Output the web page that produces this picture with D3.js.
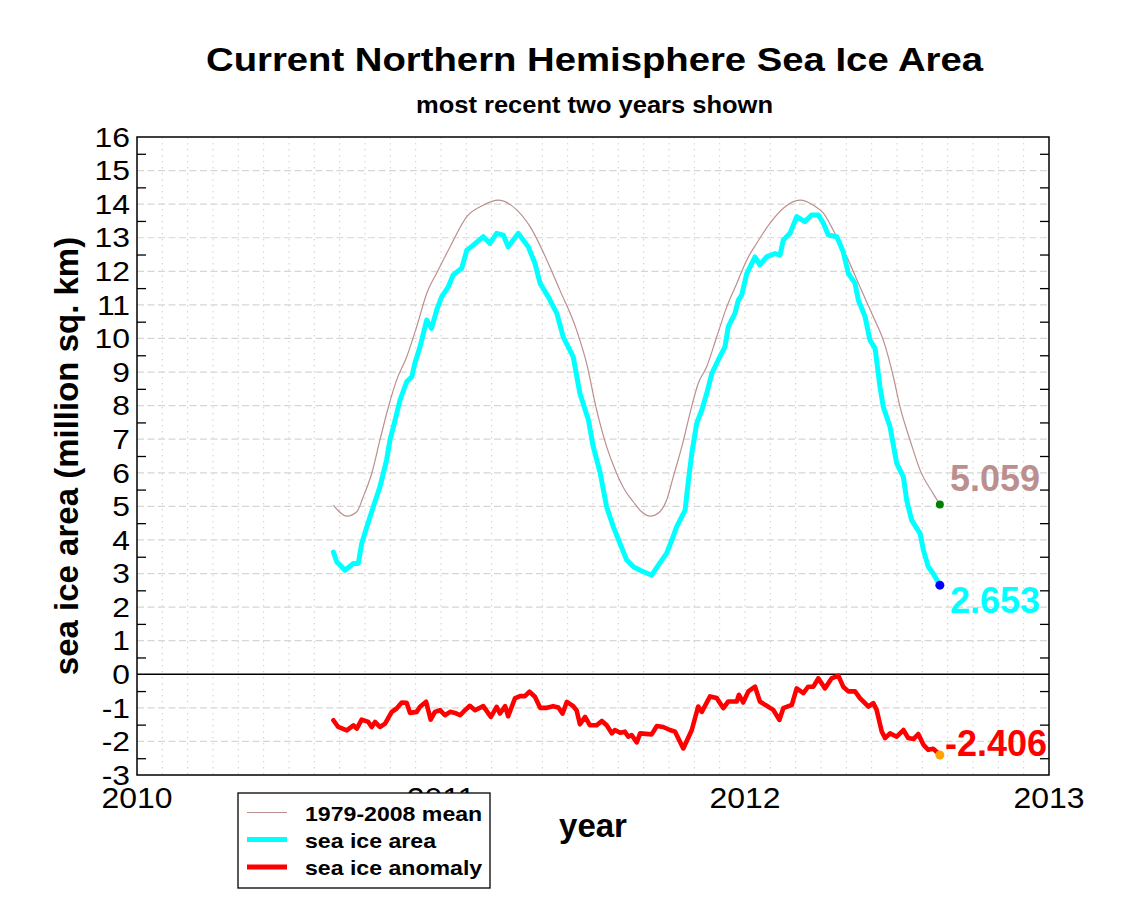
<!DOCTYPE html>
<html>
<head>
<meta charset="utf-8">
<script src="https://cdn.jsdelivr.net/npm/d3@7"></script>
<style>
  html, body { margin: 0; padding: 0; background: #fff; }
  svg { display: block; font-family: "Liberation Sans", Arial, Helvetica, sans-serif; }
</style>
</head>
<body>
<svg id="chart" width="1122" height="912"></svg>
<script>
// ---- data (decimal year, million sq. km) ----
const meanYears = [2010.646,2010.690,2010.723,2010.744,2010.772,2010.799,2010.827,2010.854,2010.887,2010.920,2010.953,2010.991,2011.030,2011.085,2011.139,2011.188,2011.249,2011.293,2011.348,2011.391,2011.446,2011.479,2011.512,2011.523,2011.545,2011.578,2011.605,2011.633,2011.660,2011.688,2011.720,2011.742,2011.764,2011.792,2011.819,2011.846,2011.874,2011.907,2011.940,2011.973,2012.006,2012.038,2012.082,2012.126,2012.181,2012.225,2012.258,2012.290,2012.335,2012.378,2012.422,2012.455,2012.488,2012.510,2012.543,2012.576,2012.619,2012.641];
const meanValues = [5.04,4.71,4.84,5.28,5.98,6.97,7.96,8.76,9.45,10.35,11.34,12.04,12.73,13.63,13.97,14.12,13.83,13.33,12.34,11.44,10.25,9.26,7.87,7.47,6.77,5.98,5.48,5.13,4.84,4.71,4.84,5.18,5.88,6.77,7.77,8.66,9.16,10.05,10.94,11.64,12.34,12.83,13.43,13.88,14.12,13.97,13.73,13.23,12.43,11.54,10.65,9.95,8.86,7.96,6.97,6.08,5.38,5.059];

const areaYears = [2010.646,2010.657,2010.684,2010.712,2010.728,2010.739,2010.756,2010.777,2010.799,2010.821,2010.832,2010.849,2010.865,2010.887,2010.904,2010.914,2010.931,2010.953,2010.969,2010.986,2011.002,2011.024,2011.040,2011.068,2011.085,2011.106,2011.139,2011.161,2011.183,2011.205,2011.221,2011.254,2011.287,2011.309,2011.326,2011.353,2011.381,2011.402,2011.435,2011.457,2011.485,2011.501,2011.523,2011.545,2011.567,2011.589,2011.611,2011.633,2011.655,2011.693,2011.715,2011.742,2011.759,2011.775,2011.803,2011.814,2011.825,2011.841,2011.858,2011.874,2011.891,2011.912,2011.934,2011.945,2011.967,2011.978,2011.989,2012.006,2012.033,2012.049,2012.071,2012.099,2012.115,2012.126,2012.148,2012.170,2012.197,2012.219,2012.241,2012.258,2012.274,2012.302,2012.323,2012.340,2012.362,2012.373,2012.395,2012.411,2012.428,2012.444,2012.455,2012.477,2012.499,2012.521,2012.532,2012.548,2012.576,2012.587,2012.603,2012.619,2012.641];
const areaValues = [3.64,3.35,3.10,3.30,3.30,3.89,4.39,4.98,5.58,6.38,6.97,7.57,8.16,8.71,8.86,9.26,9.75,10.55,10.30,10.85,11.24,11.54,11.89,12.09,12.63,12.78,13.03,12.83,13.13,13.08,12.73,13.13,12.73,12.24,11.64,11.24,10.75,10.05,9.45,8.36,7.57,6.77,6.02,4.98,4.39,3.89,3.40,3.20,3.10,2.95,3.25,3.60,3.99,4.39,4.89,5.78,6.58,7.47,7.87,8.36,8.96,9.36,9.75,10.35,10.75,11.14,11.29,11.94,12.43,12.19,12.43,12.53,12.48,12.93,13.13,13.63,13.48,13.68,13.68,13.43,13.08,13.03,12.58,11.94,11.64,11.14,10.65,9.95,9.70,8.56,7.96,7.37,6.28,5.88,5.18,4.59,4.19,3.69,3.20,3.00,2.653];

const anomYears = [2010.646,2010.662,2010.690,2010.712,2010.723,2010.739,2010.761,2010.772,2010.783,2010.799,2010.816,2010.838,2010.854,2010.871,2010.887,2010.898,2010.920,2010.931,2010.951,2010.966,2010.980,2010.997,2011.013,2011.030,2011.046,2011.063,2011.079,2011.095,2011.112,2011.139,2011.164,2011.183,2011.194,2011.211,2011.221,2011.243,2011.260,2011.276,2011.291,2011.309,2011.326,2011.348,2011.369,2011.386,2011.400,2011.414,2011.435,2011.446,2011.457,2011.474,2011.490,2011.512,2011.529,2011.545,2011.562,2011.572,2011.589,2011.605,2011.616,2011.627,2011.644,2011.655,2011.693,2011.710,2011.731,2011.753,2011.770,2011.797,2011.825,2011.846,2011.858,2011.885,2011.907,2011.929,2011.945,2011.973,2011.980,2011.994,2012.011,2012.033,2012.049,2012.066,2012.093,2012.113,2012.126,2012.154,2012.170,2012.192,2012.208,2012.225,2012.241,2012.263,2012.285,2012.307,2012.323,2012.340,2012.362,2012.378,2012.406,2012.422,2012.433,2012.450,2012.461,2012.477,2012.499,2012.521,2012.537,2012.554,2012.570,2012.587,2012.603,2012.619,2012.636,2012.641];
const anomValues = [-1.37,-1.57,-1.67,-1.52,-1.62,-1.35,-1.42,-1.57,-1.42,-1.57,-1.47,-1.12,-1.02,-0.84,-0.85,-1.15,-1.12,-0.97,-0.82,-1.35,-1.12,-1.07,-1.22,-1.12,-1.15,-1.22,-1.07,-0.94,-1.07,-0.95,-1.27,-0.97,-1.17,-0.95,-1.25,-0.72,-0.65,-0.65,-0.52,-0.67,-1.00,-1.00,-0.95,-0.99,-1.17,-0.82,-0.95,-1.07,-1.49,-1.27,-1.52,-1.52,-1.39,-1.52,-1.76,-1.66,-1.74,-1.71,-1.86,-1.81,-2.03,-1.76,-1.79,-1.54,-1.57,-1.66,-1.71,-2.21,-1.66,-0.96,-1.12,-0.66,-0.71,-1.01,-0.81,-0.81,-0.61,-0.84,-0.51,-0.37,-0.81,-0.91,-1.06,-1.36,-1.01,-0.91,-0.42,-0.56,-0.37,-0.37,-0.12,-0.42,-0.12,-0.04,-0.37,-0.51,-0.51,-0.71,-0.96,-0.86,-1.06,-1.71,-1.90,-1.76,-1.86,-1.66,-1.90,-1.93,-1.78,-2.10,-2.25,-2.22,-2.35,-2.406];

const xTickYears = [2010, 2011, 2012, 2013];
const yTickValues = d3.range(-3, 17);
const legendLabels = ["1979-2008 mean", "sea ice area", "sea ice anomaly"];
const titleText = "Current Northern Hemisphere Sea Ice Area";
const subtitleText = "most recent two years shown";
const xTitle = "year";
const yTitle = "sea ice area (million sq. km)";

// ---- layout ----
const svg = d3.select("#chart");
const L = 137, R = 1049, T = 137, B = 775;
const x = d3.scaleLinear().domain([2010, 2013]).range([L, R]);
const y = d3.scaleLinear().domain([-3, 16]).range([B, T]);

const colMean = "#bc8f8f", colArea = "#00ffff", colAnom = "#ff0000";

function stretch(sel, f) {
  sel.each(function () {
    const w = this.getComputedTextLength();
    this.setAttribute("textLength", (w * f).toFixed(1));
    this.setAttribute("lengthAdjust", "spacingAndGlyphs");
  });
}
function fitWidth(sel, w) {
  sel.attr("textLength", w).attr("lengthAdjust", "spacingAndGlyphs");
}

svg.append("rect").attr("width", 1122).attr("height", 912).attr("fill", "#fff");

// grid: monthly dotted verticals
const monthTicks = d3.range(1, 36).map(i => 2010 + i / 12);
svg.append("g").selectAll("line").data(monthTicks).join("line")
  .attr("x1", d => x(d)).attr("x2", d => x(d))
  .attr("y1", T).attr("y2", B)
  .attr("stroke", "#cfcfcf").attr("stroke-width", 1)
  .attr("stroke-dasharray", "1.5,4.5");

// grid: horizontal dashed at integers
const gridY = yTickValues.filter(v => v !== 0 && v !== -3 && v !== 16);
svg.append("g").selectAll("line").data(gridY).join("line")
  .attr("x1", L).attr("x2", R)
  .attr("y1", d => y(d)).attr("y2", d => y(d))
  .attr("stroke", "#d6d6d6").attr("stroke-width", 1.2)
  .attr("stroke-dasharray", "7,3.5");

// zero line
svg.append("line").attr("x1", L).attr("x2", R).attr("y1", y(0)).attr("y2", y(0))
  .attr("stroke", "#000").attr("stroke-width", 1.5);

// series
const line = d3.line().x(d => x(d[0])).y(d => y(d[1]));
const smoothLine = d3.line().x(d => x(d[0])).y(d => y(d[1])).curve(d3.curveMonotoneX);
const meanData = meanYears.map((t, i) => [t, meanValues[i]]);
const areaData = areaYears.map((t, i) => [t, areaValues[i]]);
const anomData = anomYears.map((t, i) => [t, anomValues[i]]);

svg.append("path").datum(meanData).attr("d", smoothLine)
  .attr("fill", "none").attr("stroke", colMean).attr("stroke-width", 1.2);
svg.append("path").datum(areaData).attr("d", line)
  .attr("fill", "none").attr("stroke", colArea).attr("stroke-width", 5)
  .attr("stroke-linejoin", "round").attr("stroke-linecap", "round");
svg.append("path").datum(anomData).attr("d", line)
  .attr("fill", "none").attr("stroke", colAnom).attr("stroke-width", 4.6)
  .attr("stroke-linejoin", "round").attr("stroke-linecap", "round");

// end dots
const lastMean = meanData[meanData.length - 1];
const lastArea = areaData[areaData.length - 1];
const lastAnom = anomData[anomData.length - 1];
svg.append("circle").attr("cx", x(lastMean[0])).attr("cy", y(lastMean[1])).attr("r", 4).attr("fill", "#008000");
svg.append("circle").attr("cx", x(lastArea[0])).attr("cy", y(lastArea[1])).attr("r", 4.5).attr("fill", "#0000ff");
svg.append("circle").attr("cx", x(lastAnom[0])).attr("cy", y(lastAnom[1])).attr("r", 4.5).attr("fill", "#ffa500");

// plot border
svg.append("rect").attr("x", L).attr("y", T).attr("width", R - L).attr("height", B - T)
  .attr("fill", "none").attr("stroke", "#000").attr("stroke-width", 1.5);

// minor ticks at half values (left & right, inward)
const halfTicks = d3.range(-2.5, 16, 1);
const leftAxis = svg.append("g").attr("transform", `translate(${L},0)`)
  .call(d3.axisLeft(y).tickValues(halfTicks).tickSize(-9).tickFormat(""));
const rightAxis = svg.append("g").attr("transform", `translate(${R},0)`)
  .call(d3.axisRight(y).tickValues(halfTicks).tickSize(-9).tickFormat(""));
[leftAxis, rightAxis].forEach(g => {
  g.select(".domain").remove();
  g.selectAll(".tick line").attr("stroke", "#000").attr("stroke-width", 1.3);
});

// y tick labels
const yLab = svg.append("g").selectAll("text").data(yTickValues).join("text")
  .attr("x", 130).attr("y", d => y(d)).attr("dy", "0.36em")
  .attr("text-anchor", "end").attr("font-size", 27).attr("fill", "#000")
  .text(d => d);
stretch(yLab, 1.18);

// x tick labels
const xLab = svg.append("g").selectAll("text").data(xTickYears).join("text")
  .attr("x", d => x(d)).attr("y", 808)
  .attr("text-anchor", "middle").attr("font-size", 29).attr("fill", "#000")
  .text(d => d);
stretch(xLab, 1.1);

// titles
const title = svg.append("text").attr("x", 594.5).attr("y", 71).attr("text-anchor", "middle")
  .attr("font-size", 33).attr("font-weight", "bold").text(titleText);
fitWidth(title, 777);
const sub = svg.append("text").attr("x", 594.5).attr("y", 113).attr("text-anchor", "middle")
  .attr("font-size", 23).attr("font-weight", "bold").text(subtitleText);
fitWidth(sub, 357);
svg.append("text").attr("x", 593).attr("y", 837).attr("text-anchor", "middle")
  .attr("font-size", 33).attr("font-weight", "bold").text(xTitle);
svg.append("text").attr("transform", "translate(78,456) rotate(-90)").attr("text-anchor", "middle")
  .attr("font-size", 33).attr("font-weight", "bold").text(yTitle);

// end value labels
svg.append("text").attr("x", 950).attr("y", y(lastMean[1]) - 13)
  .attr("font-size", 36).attr("font-weight", "bold").attr("fill", colMean)
  .text(lastMean[1].toFixed(3));
svg.append("text").attr("x", 950).attr("y", y(lastArea[1]) + 28)
  .attr("font-size", 36).attr("font-weight", "bold").attr("fill", colArea)
  .text(lastArea[1].toFixed(3));
svg.append("text").attr("x", 945).attr("y", y(lastAnom[1]) + 0.5)
  .attr("font-size", 36).attr("font-weight", "bold").attr("fill", colAnom)
  .text(lastAnom[1].toFixed(3));

// legend
const lg = svg.append("g");
lg.append("rect").attr("x", 238).attr("y", 793).attr("width", 252).attr("height", 95)
  .attr("fill", "#fff").attr("stroke", "#000").attr("stroke-width", 1.3);
const legendColors = [colMean, colArea, colAnom];
const legendWidths = [1.2, 5, 5];
const rowY = [812.5, 839.5, 867];
const items = lg.selectAll("g.item").data(legendLabels).join("g").attr("class", "item");
items.append("line").attr("x1", 247).attr("x2", 287)
  .attr("y1", (d, i) => rowY[i]).attr("y2", (d, i) => rowY[i])
  .attr("stroke", (d, i) => legendColors[i]).attr("stroke-width", (d, i) => legendWidths[i]);
const legTxt = items.append("text").attr("x", 305).attr("y", (d, i) => rowY[i] + 8)
  .attr("font-size", 21).attr("font-weight", "bold").text(d => d);
stretch(legTxt, 1.1);
</script>
</body>
</html>
